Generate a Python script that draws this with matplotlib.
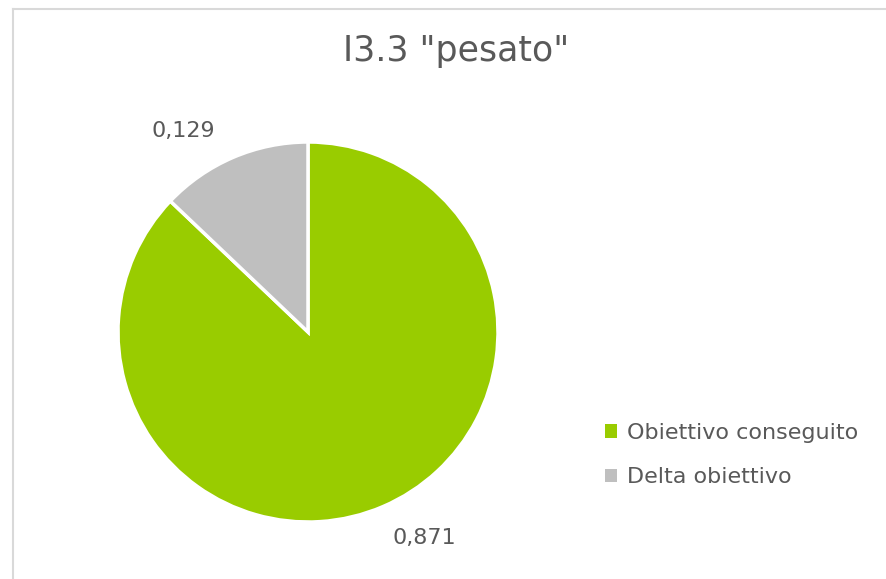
import numpy as np
import matplotlib
matplotlib.use("Agg")
import matplotlib.pyplot as plt
from matplotlib.patches import Patch
from matplotlib.lines import Line2D

plt.rcParams['font.family'] = ['DejaVu Sans']

title = 'I3.3 "pesato"'
categories = ["Obiettivo conseguito", "Delta obiettivo"]
values = [0.871, 0.129]
value_labels = ["0,871", "0,129"]
colors = ["#99CC00", "#BFBFBF"]
text_color = "#595959"

W, H = 886, 579
fig = plt.figure(figsize=(W / 100, H / 100), dpi=100)
fig.patch.set_facecolor("white")

# thin chart-area border along the top and left edges
fig.add_artist(Line2D([12.5 / W, 1], [1 - 8.5 / H, 1 - 8.5 / H],
                      transform=fig.transFigure, color="#D9D9D9", lw=1.5))
fig.add_artist(Line2D([12.5 / W, 12.5 / W], [0, 1 - 8.5 / H],
                      transform=fig.transFigure, color="#D9D9D9", lw=1.5))

# pie axes: centre (308, 332), radius 190 px
cx, cy, r = 308, 332, 190
ax = fig.add_axes([(cx - r) / W, (H - cy - r) / H, 2 * r / W, 2 * r / H])
wedges, _ = ax.pie(values, colors=colors, startangle=90, counterclock=False,
                   radius=1.0,
                   wedgeprops=dict(edgecolor="white", linewidth=2.5))
ax.set_xlim(-1, 1)
ax.set_ylim(-1, 1)
ax.set_aspect("equal")
ax.axis("off")

# data labels outside each slice
label_shift = [6.0, 8.5]
for w, lab, sh in zip(wedges, value_labels, label_shift):
    mid = np.deg2rad((w.theta1 + w.theta2) / 2 + sh)
    ax.text(1.25 * np.cos(mid), 1.245 * np.sin(mid), lab,
            ha="center", va="center", fontsize=16, color=text_color,
            clip_on=False)

fig.text(456 / W, 1 - 51 / H, title, ha="center", va="center",
         fontsize=25, color=text_color)

handles = [Patch(facecolor=c, edgecolor="none") for c in colors]
fig.legend(handles, categories, loc="center left",
           bbox_to_anchor=(585 / W, 1 - 455 / H), frameon=False,
           fontsize=16, labelcolor=text_color, handlelength=0.55,
           handleheight=0.55, handletextpad=0.45, labelspacing=1.1)

fig.savefig("out.png", dpi=100, facecolor="white")
